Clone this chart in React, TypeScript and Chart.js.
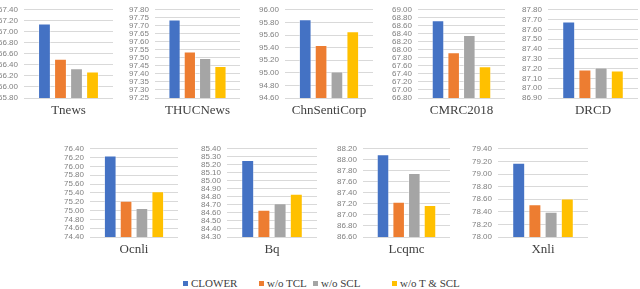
import React, { useEffect, useRef } from "react";
import { Chart, registerables } from "chart.js";

Chart.register(...registerables);

// ---------- data ----------
const seriesNames = ["CLOWER", "w/o TCL", "w/o SCL", "w/o T & SCL"];
const seriesColors = ["#4472C4", "#ED7D31", "#A5A5A5", "#FFC000"];

const taskNames = ["Tnews", "THUCNews", "ChnSentiCorp", "CMRC2018", "DRCD", "Ocnli", "Bq", "Lcqmc", "Xnli"];

const tnewsValues = [67.15, 66.51, 66.34, 66.28];
const thucnewsValues = [97.74, 97.54, 97.5, 97.45];
const chnsenticorpValues = [95.85, 95.44, 95.02, 95.66];
const cmrc2018Values = [68.74, 67.94, 68.37, 67.59];
const drcdValues = [87.68, 87.19, 87.21, 87.18];
const ocnliValues = [76.25, 75.22, 75.06, 75.44];
const bqValues = [85.26, 84.64, 84.72, 84.84];
const lcqmcValues = [88.1, 87.24, 87.76, 87.18];
const xnliValues = [79.18, 78.52, 78.4, 78.61];

const axisMins = [65.8, 97.25, 94.6, 66.8, 86.9, 74.4, 84.3, 86.6, 78.0];
const axisMaxs = [67.4, 97.8, 96.0, 69.0, 87.8, 76.4, 85.4, 88.2, 79.4];
const axisSteps = [0.2, 0.05, 0.2, 0.2, 0.1, 0.2, 0.1, 0.2, 0.2];

const allValues = [
  tnewsValues, thucnewsValues, chnsenticorpValues, cmrc2018Values, drcdValues,
  ocnliValues, bqValues, lcqmcValues, xnliValues,
];

// ---------- layout (plot area boxes in page pixels) ----------
const plotBoxes = [
  { l: 24, r: 113, t: 4, b: 98 },
  { l: 155, r: 240, t: 4, b: 98 },
  { l: 285, r: 373, t: 4, b: 98 },
  { l: 418, r: 505, t: 4, b: 98 },
  { l: 548, r: 638, t: 4, b: 98 },
  { l: 90, r: 178, t: 143, b: 237 },
  { l: 227, r: 317, t: 143, b: 237 },
  { l: 363, r: 450, t: 143, b: 237 },
  { l: 498, r: 588, t: 143, b: 237 },
];

const YW = 40; // y axis width
const TOP_OFF = 5; // chart area offset from canvas top (half tick label)
const XH = 26; // x axis height

function Panel(props: { idx: number }) {
  const ref = useRef<HTMLCanvasElement | null>(null);
  const i = props.idx;
  const box = plotBoxes[i];
  const left = box.l - YW;
  const top = box.t - TOP_OFF;
  const width = box.r - left;
  const height = box.b - top + XH;

  useEffect(() => {
    if (!ref.current) return;
    const vals = allValues[i];
    const mn = axisMins[i];
    const mx = axisMaxs[i];
    const st = axisSteps[i];
    const chart = new Chart(ref.current, {
      type: "bar",
      data: {
        labels: [taskNames[i]],
        datasets: seriesNames.map((name, k) => ({
          label: name,
          data: [vals[k]],
          backgroundColor: seriesColors[k],
          borderColor: "rgba(255,255,255,0.45)",
          borderWidth: 1,
          categoryPercentage: 0.72,
          barPercentage: 0.8,
        })),
      },
      options: {
        responsive: false,
        animation: false,
        maintainAspectRatio: false,
        layout: { padding: 0 },
        plugins: { legend: { display: false }, tooltip: { enabled: false } },
        scales: {
          x: {
            grid: { display: false, drawTicks: false },
            border: { display: false },
            ticks: {
              padding: 5,
              color: "#404040",
              font: { family: "'Liberation Serif', 'Times New Roman', serif", size: 13 },
            },
            afterFit: (s: any) => {
              s.height = XH;
            },
          },
          y: {
            min: mn,
            max: mx,
            grid: { color: "#D9D9D9", lineWidth: 1, drawTicks: false },
            border: { display: false },
            ticks: {
              padding: 6,
              autoSkip: false,
              color: "#808080",
              font: { family: "'Liberation Sans', Arial, sans-serif", size: 8 },
              callback: (v: any) => Number(v).toFixed(2),
            },
            afterBuildTicks: (s: any) => {
              const n = Math.round((mx - mn) / st);
              const t = [];
              for (let j = 0; j <= n; j++) t.push({ value: Math.round((mn + j * st) * 1000) / 1000 });
              s.ticks = t;
            },
            afterFit: (s: any) => {
              s.width = YW;
            },
          },
        },
      },
    });
    return () => chart.destroy();
  }, [i]);

  return (
    <canvas
      ref={ref}
      width={width}
      height={height}
      style={{ position: "absolute", left, top, width, height }}
    />
  );
}

const legendSquareX = [183, 259, 313, 392];

export default function App() {
  return (
    <div
      style={{
        position: "absolute",
        left: 0,
        top: 0,
        width: 640,
        height: 289,
        overflow: "hidden",
        background: "#ffffff",
      }}
    >
      {taskNames.map((_, i) => (
        <Panel key={i} idx={i} />
      ))}
      {seriesNames.map((name, k) => (
        <div
          key={name}
          style={{
            position: "absolute",
            left: legendSquareX[k],
            top: 275,
            height: 16,
            display: "flex",
            alignItems: "center",
            whiteSpace: "nowrap",
            fontFamily: "'Liberation Serif', 'Times New Roman', serif",
            fontSize: 11,
            color: "#404040",
          }}
        >
          <span
            style={{
              display: "inline-block",
              width: 5,
              height: 5,
              background: seriesColors[k],
              marginRight: 3,
            }}
          />
          <span>{name}</span>
        </div>
      ))}
    </div>
  );
}
